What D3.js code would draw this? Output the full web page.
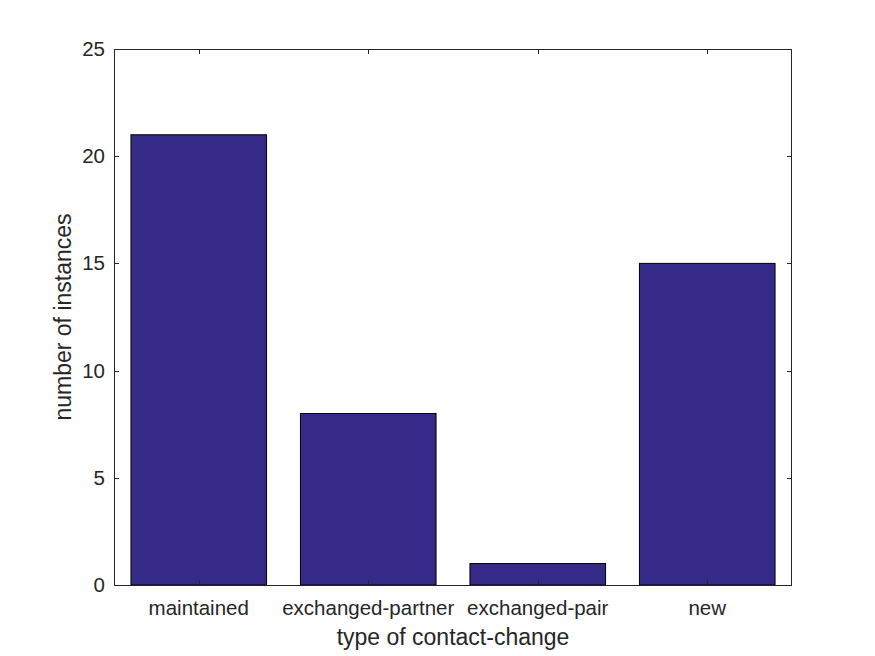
<!DOCTYPE html>
<html><head><meta charset="utf-8">
<script src="https://cdn.jsdelivr.net/npm/d3@7"></script>
<style>body{margin:0;background:#fff}svg{display:block}text{font-family:"Liberation Sans",Arial,sans-serif;fill:#262626}</style>
</head><body><svg id="c" width="875" height="656"></svg>
<script>
const categories = ["maintained","exchanged-partner","exchanged-pair","new"];
const values = [21, 8, 1, 15];
const yTicks = [0,5,10,15,20,25];

const svg = d3.select("#c");
const L=114, R=792, T=49, B=585;
const x = d3.scaleLinear().domain([0.5, 4.5]).range([L, R]);
const y = d3.scaleLinear().domain([0, 25]).range([B, T]);
const bw = 0.8;

svg.append("rect").attr("x",0).attr("y",0).attr("width",875).attr("height",656).attr("fill","#fff");

svg.selectAll(".bar").data(values).enter().append("rect")
  .attr("x",(d,i)=>x(i+1-bw/2)).attr("width",(d,i)=>x(i+1+bw/2)-x(i+1-bw/2))
  .attr("y",d=>y(d)).attr("height",d=>y(0)-y(d))
  .attr("fill","#352a87").attr("stroke","#000").attr("stroke-width",1);

const g = svg.append("g");
const tl = 5;
categories.forEach((c,i)=>{
  const xx = Math.round(x(i+1))+0.5;
  g.append("line").attr("x1",xx).attr("x2",xx).attr("y1",B).attr("y2",B-tl).attr("stroke","#262626");
  g.append("line").attr("x1",xx).attr("x2",xx).attr("y1",T).attr("y2",T+tl).attr("stroke","#262626");
  g.append("text").attr("x",x(i+1)).attr("y",B+29.5).attr("text-anchor","middle").style("font-size","20.5px").text(c);
});
yTicks.forEach(t=>{
  const yy = Math.round(y(t))+0.5;
  g.append("line").attr("x1",L).attr("x2",L+tl).attr("y1",yy).attr("y2",yy).attr("stroke","#262626");
  g.append("line").attr("x1",R).attr("x2",R-tl).attr("y1",yy).attr("y2",yy).attr("stroke","#262626");
  g.append("text").attr("x",L-9).attr("y",y(t)+7).attr("text-anchor","end").style("font-size","20.5px").text(t);
});
g.append("rect").attr("x",L+0.5).attr("y",T+0.5).attr("width",R-L-1).attr("height",B-T).attr("fill","none").attr("stroke","#262626");

svg.append("text").attr("x",(L+R)/2).attr("y",645).attr("text-anchor","middle").style("font-size","23px").text("type of contact-change");
svg.append("text").attr("transform",`translate(71,${(T+B)/2}) rotate(-90)`).attr("text-anchor","middle").style("font-size","23px").text("number of instances");
</script></body></html>
